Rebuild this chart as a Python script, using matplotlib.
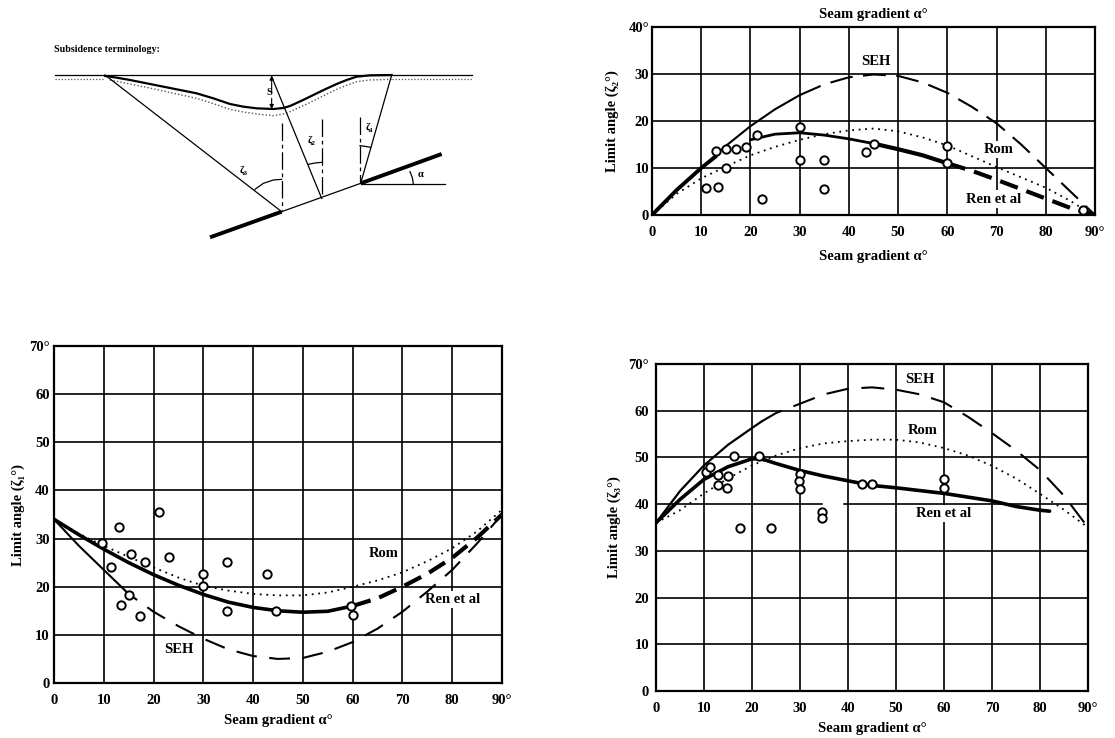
#!/usr/bin/env python3
"""Subsidence terminology sketch with three limit angle charts."""

import matplotlib
matplotlib.use('Agg')
import matplotlib.pyplot as plt

plt.rcParams['font.family'] = ['Liberation Serif', 'DejaVu Serif']
plt.rcParams['font.weight'] = 'bold'
plt.rcParams['axes.labelweight'] = 'bold'

W, H = 1115, 738

# Shared ticks
X_TICKS = [0, 10, 20, 30, 40, 50, 60, 70, 80, 90]
X_LABELS = ['0', '10', '20', '30', '40', '50', '60', '70', '80', '90°']
Y_TICKS_70 = [0, 10, 20, 30, 40, 50, 60, 70]
Y_LABELS_70 = ['0', '10', '20', '30', '40', '50', '60', '70°']
Y_TICKS_40 = [0, 10, 20, 30, 40]
Y_LABELS_40 = ['0', '10', '20', '30', '40°']

# Chart zeta 1 (bottom left)
seh1_x = [0, 5, 10, 13.5, 15, 20, 25, 30, 35, 40, 45, 50, 55, 60, 65, 70, 75, 80, 85, 90]
seh1_y = [34, 28.5, 23.5, 20, 18.5, 14.8, 11.8, 9.2, 7, 5.6, 5, 5.2, 6.5, 8.5, 11.3, 14.8, 19, 23.5, 29, 35]
rom1_x = [0, 5, 10, 15, 20, 25, 30, 35, 40, 45, 50, 55, 60, 65, 70, 75, 80, 85, 90]
rom1_y = [34, 31, 28.5, 26.2, 24, 21.9, 20.2, 19.2, 18.5, 18.2, 18.2, 18.8, 20, 21.3, 23, 25.3, 28, 31.5, 36]
ren1_x = [0, 5, 10, 15, 20, 25, 30, 35, 40, 45, 50, 55, 60, 65, 70, 75, 80, 85, 90]
ren1_y = [34, 30.8, 27.8, 25, 22.5, 20.3, 18.4, 16.8, 15.7, 15, 14.7, 14.9, 16, 17.6, 20, 22.7, 26, 30.2, 35]
pts1_x = [9.6, 11.5, 13, 13.5, 15, 15.5, 17.3, 18.3, 21, 23.2, 30, 30, 34.8, 34.8, 42.7, 44.5, 59.7, 60]
pts1_y = [29, 24, 32.5, 16.3, 18.3, 26.7, 14, 25.2, 35.6, 26.1, 22.7, 20.2, 25.1, 14.9, 22.7, 15, 15.9, 14.1]

# Chart zeta 2 (top right)
seh2_x = [0, 5, 10, 15, 20, 25, 30, 35, 40, 45, 50, 55, 60, 65, 70, 75, 80, 85, 90]
seh2_y = [0, 5.3, 10, 14.7, 18.9, 22.5, 25.5, 27.8, 29.3, 29.9, 29.6, 28.2, 26, 23, 19.5, 15, 10, 5, 0]
rom2_x = [0, 5, 10, 15, 20, 25, 30, 35, 40, 45, 50, 55, 60, 65, 70, 75, 80, 85, 88, 90]
rom2_y = [0, 4.5, 7.8, 10.3, 12.7, 14.5, 16, 17.2, 18, 18.4, 17.8, 16.5, 14.8, 12.5, 10.2, 8, 5.8, 3, 1, 0]
ren2_x = [0, 5, 10, 13, 20, 25, 30, 35, 40, 45, 50, 55, 60, 65, 70, 75, 80, 85, 90]
ren2_y = [0, 5.3, 10, 12.5, 16, 17.2, 17.5, 17, 16.2, 15.2, 14, 12.7, 11, 9.4, 7.5, 5.5, 3.5, 1.5, 0]
pts2_x = [11, 13.5, 13, 15, 17, 19, 21.3, 22.3, 30, 30, 35, 35, 43.5, 45, 60, 60, 15, 87.5]
pts2_y = [5.7, 6, 13.6, 14, 14, 14.5, 17.1, 3.4, 18.7, 11.7, 11.8, 5.6, 13.4, 15.2, 14.7, 11, 10, 1]

# Chart zeta 3 (bottom right)
seh3_x = [0, 5, 10, 15, 20, 22, 25, 30, 35, 40, 45, 50, 55, 60, 65, 70, 75, 80, 85, 90]
seh3_y = [36, 42.8, 48.3, 52.7, 56.3, 57.7, 59.5, 61.5, 63.5, 64.7, 65, 64.5, 63.5, 61.8, 58.7, 55.2, 51.5, 47.3, 41.8, 35]
rom3_x = [0, 5, 10, 15, 20, 25, 30, 35, 40, 45, 50, 55, 60, 65, 70, 75, 80, 85, 90]
rom3_y = [36, 38.7, 42.3, 45.5, 48.3, 50.4, 52, 53, 53.5, 53.8, 53.8, 53.2, 52, 50.4, 48.2, 45.5, 42.2, 38.8, 35]
ren3_x = [0, 5, 10, 15, 20, 22, 25, 30, 35, 40, 45, 50, 60, 70, 75, 80, 82]
ren3_y = [36, 41, 45.3, 48, 49.7, 49.7, 48.7, 47.2, 46, 45, 44, 43.5, 42.3, 40.7, 39.5, 38.7, 38.5]
pts3_x = [10.5, 11.2, 13, 13, 15, 14.8, 16.3, 17.5, 21.4, 23.9, 30, 29.8, 30, 34.5, 34.5, 43, 45, 60, 60]
pts3_y = [46.9, 48, 46.2, 44.2, 46, 43.4, 50.3, 34.9, 50.3, 34.9, 46.4, 45, 43.2, 38.3, 37, 44.3, 44.3, 45.3, 43.4]

# Sketch outline, in pixels of its own box
surface_x = [75, 1325]
surface_y = [135, 135]
trough_x = [225, 260, 300, 350, 400, 450, 500, 550, 600, 640, 680, 730, 760, 780, 815, 850, 885, 920, 950, 980, 1020, 1085]
trough_y = [138, 143, 150, 160, 170, 180, 190, 205, 222, 230, 235, 237, 234, 228, 212, 195, 178, 162, 150, 140, 136, 135]
stipple_x = [240, 300, 350, 400, 450, 500, 550, 600, 640, 680, 730, 760, 780, 815, 850, 885, 920, 950, 980, 1020, 1085]
stipple_y = [150, 162, 172, 183, 194, 205, 221, 238, 246, 252, 257, 252, 245, 229, 213, 195, 178, 166, 155, 150, 148]


def axes_at(left, top, right, bottom):
    return plt.gcf().add_axes([left / W, 1 - bottom / H, (right - left) / W, (bottom - top) / H])


def setup_chart(ax, ymax, yticks, ylabels, ylabel, ypad, xlabelpad, ylabelpad):
    ax.set_xlim(0, 90)
    ax.set_ylim(0, ymax)
    ax.set_xticks(X_TICKS, X_LABELS, fontsize=10.5)
    ax.set_yticks(yticks, ylabels, fontsize=10.5)
    ax.tick_params(axis='x', length=0, pad=8)
    ax.tick_params(axis='y', length=0, pad=ypad)
    ax.grid(True, color='black', linewidth=1.2, zorder=1)
    ax.set_axisbelow(True)
    for s in ax.spines.values():
        s.set_linewidth(1.6)
    ax.set_xlabel('Seam gradient α°', fontsize=10.5, labelpad=xlabelpad)
    ax.set_ylabel(ylabel, fontsize=10.5, labelpad=ylabelpad)


def label(ax, x, y, txt):
    ax.text(x, y, txt, fontsize=10.5, ha='center', va='center', zorder=3,
            bbox=dict(facecolor='white', edgecolor='none', pad=1.5))


def dashed(ax, x, y, lw, dash):
    ax.plot(x, y, color='black', linewidth=lw, linestyle=(0, dash), zorder=4)


def solid(ax, x, y, lw):
    ax.plot(x, y, color='black', linewidth=lw, solid_capstyle='round', zorder=4)


def dotted(ax, x, y):
    ax.plot(x, y, color='black', linewidth=1.3, linestyle=(0, (1, 2.6)), zorder=4)


def circles(ax, x, y):
    ax.plot(x, y, linestyle='none', marker='o', markersize=6, markerfacecolor='white',
            markeredgecolor='black', markeredgewidth=1.4, zorder=5)


fig = plt.figure(figsize=(W / 100, H / 100), dpi=100, facecolor='white')

# ========== Sketch ==========
ax0 = axes_at(30, 30, 490, 250)
ax0.set_xlim(0, 1380)
ax0.set_ylim(660, 0)
ax0.axis('off')
ax0.text(72, 60, 'Subsidence terminology:', fontsize=7.2, va='center')
ax0.plot(surface_x, surface_y, color='black', linewidth=0.9)
ax0.plot([75, 225], [147, 147], color='#555555', linewidth=0.9, linestyle=(0, (1, 1.5)))
ax0.plot([1085, 1325], [147, 147], color='#555555', linewidth=0.9, linestyle=(0, (1, 1.5)))
ax0.plot(stipple_x, stipple_y, color='#555555', linewidth=1.0, linestyle=(0, (1, 1.5)))
ax0.plot(trough_x, trough_y, color='black', linewidth=1.6)
# limit lines
ax0.plot([225, 755], [135, 545], color='black', linewidth=0.9)
ax0.plot([725, 875], [140, 505], color='black', linewidth=0.9)
ax0.plot([1085, 992], [135, 460], color='black', linewidth=0.9)
# seam
ax0.plot([540, 755], [622, 545], color='black', linewidth=2.8, solid_capstyle='butt')
ax0.plot([755, 992], [545, 460], color='black', linewidth=0.9)
ax0.plot([992, 1235], [460, 372], color='black', linewidth=2.8, solid_capstyle='butt')
ax0.plot([992, 1245], [462, 462], color='black', linewidth=0.9)
# verticals
for vx, vy0, vy1 in [(755, 280, 540), (875, 268, 505), (990, 262, 455)]:
    ax0.plot([vx, vx], [vy0, vy1], color='black', linewidth=0.9, linestyle=(0, (14, 3, 3, 3)))
# angle arcs
ax0.plot([675, 700, 730, 755], [478, 460, 450, 448], color='black', linewidth=0.9)
ax0.plot([835, 855, 875], [403, 399, 397], color='black', linewidth=0.9)
ax0.plot([990, 1005, 1022], [347, 349, 352], color='black', linewidth=0.9)
ax0.plot([1140, 1147, 1150], [425, 443, 462], color='black', linewidth=0.9)
# S arrow
ax0.annotate('', xy=(725, 137), xytext=(725, 190),
             arrowprops=dict(arrowstyle='-|>', color='black', linewidth=0.8, mutation_scale=6, shrinkA=0, shrinkB=0))
ax0.annotate('', xy=(725, 237), xytext=(725, 205),
             arrowprops=dict(arrowstyle='-|>', color='black', linewidth=0.8, mutation_scale=6, shrinkA=0, shrinkB=0))
ax0.text(718, 187, 'S', fontsize=7.5, ha='center', va='center')
ax0.text(640, 422, 'ζ₃', fontsize=8, ha='center', va='center')
ax0.text(845, 330, 'ζ₂', fontsize=8, ha='center', va='center')
ax0.text(1018, 292, 'ζ₁', fontsize=8, ha='center', va='center')
ax0.text(1172, 435, 'α', fontsize=7.5, ha='center', va='center')

# ========== Chart zeta 2 ==========
ax2 = axes_at(652, 27, 1095, 215)
setup_chart(ax2, 40, Y_TICKS_40, Y_LABELS_40, 'Limit angle (ζ₂°)', 2, 8, 7)
ax2.text(45, 41.3, 'Seam gradient α°', fontsize=10.5, ha='center', va='bottom', clip_on=False)
label(ax2, 45.5, 32.7, 'SEH')
label(ax2, 70.5, 14, 'Rom')
label(ax2, 69.5, 3.4, 'Ren et al')
solid(ax2, seh2_x[:7], seh2_y[:7], 1.5)
dashed(ax2, seh2_x[6:], seh2_y[6:], 1.5, (11, 5))
dotted(ax2, rom2_x, rom2_y)
solid(ax2, ren2_x[:4], ren2_y[:4], 2.8)
solid(ax2, ren2_x[4:10], ren2_y[4:10], 2.0)
solid(ax2, ren2_x[9:13], ren2_y[9:13], 3.0)
dashed(ax2, ren2_x[12:], ren2_y[12:], 3.0, (4.5, 2.2))
circles(ax2, pts2_x, pts2_y)

# ========== Chart zeta 1 ==========
ax1 = axes_at(54, 346, 502, 683)
setup_chart(ax1, 70, Y_TICKS_70, Y_LABELS_70, 'Limit angle (ζ₁°)', 3, 5, 3)
label(ax1, 66.2, 27, 'Rom')
label(ax1, 80, 17.3, 'Ren et al')
label(ax1, 25, 6.9, 'SEH')
solid(ax1, seh1_x[:4], seh1_y[:4], 1.5)
dashed(ax1, seh1_x[3:], seh1_y[3:], 1.5, (10, 6))
dotted(ax1, rom1_x, rom1_y)
solid(ax1, ren1_x[:13], ren1_y[:13], 2.6)
dashed(ax1, ren1_x[12:], ren1_y[12:], 3.0, (4.5, 2.2))
circles(ax1, pts1_x, pts1_y)

# ========== Chart zeta 3 ==========
ax3 = axes_at(656, 364, 1088, 691)
setup_chart(ax3, 70, Y_TICKS_70, Y_LABELS_70, 'Limit angle (ζ₃°)', 5, 5, 5)
ax3.plot([35, 38.5], [40, 40], color='white', linewidth=2.5, zorder=2)
label(ax3, 55, 66.6, 'SEH')
label(ax3, 55.5, 55.8, 'Rom')
label(ax3, 60, 38, 'Ren et al')
solid(ax3, seh3_x[:6], seh3_y[:6], 1.6)
dashed(ax3, seh3_x[5:], seh3_y[5:], 1.5, (11, 6))
dotted(ax3, rom3_x, rom3_y)
solid(ax3, ren3_x, ren3_y, 2.6)
circles(ax3, pts3_x, pts3_y)

plt.savefig('out.png', dpi=100, facecolor='white')
